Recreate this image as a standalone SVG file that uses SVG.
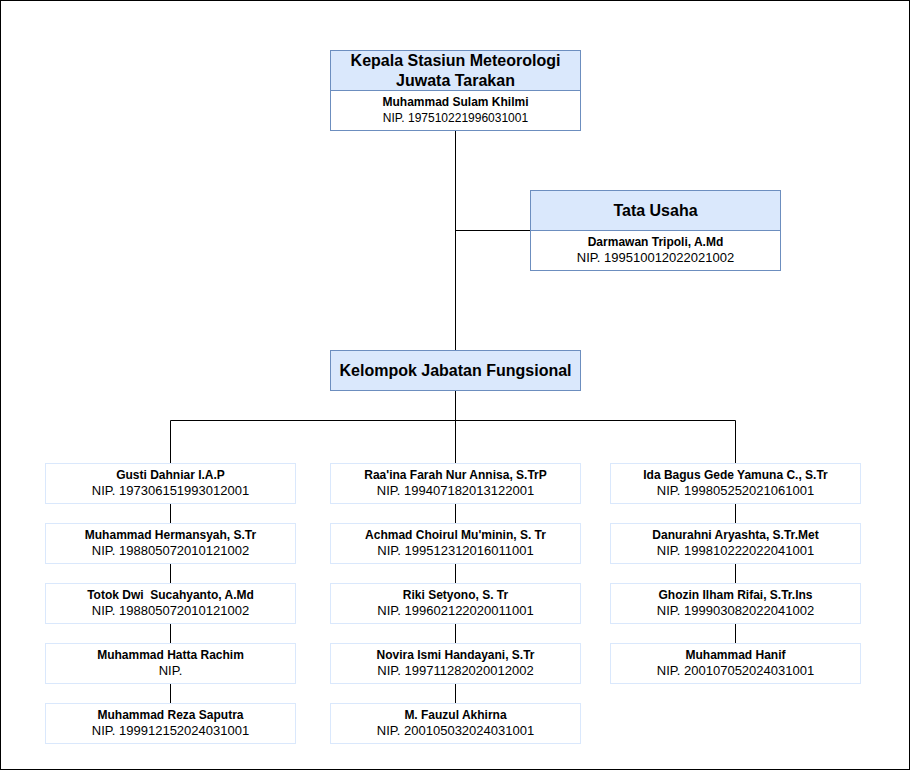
<svg xmlns="http://www.w3.org/2000/svg" width="912" height="771" viewBox="0 0 912 771">
<style>
  .hdr{fill:#dae8fc;stroke:#6c8ebf;stroke-width:1}
  .body{fill:#ffffff;stroke:#6c8ebf;stroke-width:1}
  .staff{fill:#ffffff;stroke:#dae8fc;stroke-width:1}
  .t{font-family:"Liberation Sans",Arial,sans-serif;fill:#000;text-anchor:middle}
  .title{font-size:16px;font-weight:bold}
  .name{font-size:12px;font-weight:bold;white-space:pre}
  .nip{font-size:13px}
  .nip12{font-size:12px}
  .conn line{stroke:#000;stroke-width:1;fill:none}
</style>
<rect x="0.5" y="0.5" width="909" height="769" fill="#ffffff" stroke="#000" stroke-width="1"/>
<g id="connectors" class="conn">
  <line x1="455.5" y1="130.5" x2="455.5" y2="350.5"/>
  <line x1="455.5" y1="230.5" x2="530.5" y2="230.5"/>
  <line x1="455.5" y1="390.5" x2="455.5" y2="420.5"/>
  <line x1="170.5" y1="420.5" x2="735.5" y2="420.5"/>
  <line x1="170.5" y1="420.5" x2="170.5" y2="463.5"/>
  <line x1="455.5" y1="420.5" x2="455.5" y2="463.5"/>
  <line x1="735.5" y1="420.5" x2="735.5" y2="463.5"/>
  <line x1="170.5" y1="503.5" x2="170.5" y2="523.5"/>
  <line x1="170.5" y1="563.5" x2="170.5" y2="583.5"/>
  <line x1="170.5" y1="623.5" x2="170.5" y2="643.5"/>
  <line x1="170.5" y1="683.5" x2="170.5" y2="703.5"/>
  <line x1="455.5" y1="503.5" x2="455.5" y2="523.5"/>
  <line x1="455.5" y1="563.5" x2="455.5" y2="583.5"/>
  <line x1="455.5" y1="623.5" x2="455.5" y2="643.5"/>
  <line x1="455.5" y1="683.5" x2="455.5" y2="703.5"/>
  <line x1="735.5" y1="503.5" x2="735.5" y2="523.5"/>
  <line x1="735.5" y1="563.5" x2="735.5" y2="583.5"/>
  <line x1="735.5" y1="623.5" x2="735.5" y2="643.5"/>
</g>
<g id="kepala">
  <rect class="hdr" x="330.5" y="50.5" width="250" height="40"/>
  <rect class="body" x="330.5" y="90.5" width="250" height="40"/>
  <text class="t title" x="455.5" y="66.3">Kepala Stasiun Meteorologi</text>
  <text class="t title" x="455.5" y="85.5">Juwata Tarakan</text>
  <text class="t name" x="455.5" y="106">Muhammad Sulam Khilmi</text>
  <text class="t nip12" x="455.5" y="122">NIP. 197510221996031001</text>
</g>
<g id="tata-usaha">
  <rect class="hdr" x="530.5" y="190.5" width="250" height="40"/>
  <rect class="body" x="530.5" y="230.5" width="250" height="40"/>
  <text class="t title" x="655.5" y="216">Tata Usaha</text>
  <text class="t name" x="655.5" y="245.5">Darmawan Tripoli, A.Md</text>
  <text class="t nip" x="655.5" y="262">NIP. 199510012022021002</text>
</g>
<g id="kelompok">
  <rect class="hdr" x="330.5" y="350.5" width="250" height="40"/>
  <text class="t title" x="455.5" y="376">Kelompok Jabatan Fungsional</text>
</g>
<g id="s-l1"><rect class="staff" x="45.5" y="463.5" width="250" height="40"/><text class="t name" x="170.5" y="478.5">Gusti Dahniar I.A.P</text><text class="t nip" x="170.5" y="495">NIP. 197306151993012001</text></g>
<g id="s-l2"><rect class="staff" x="45.5" y="523.5" width="250" height="40"/><text class="t name" x="170.5" y="538.5">Muhammad Hermansyah, S.Tr</text><text class="t nip" x="170.5" y="555">NIP. 198805072010121002</text></g>
<g id="s-l3"><rect class="staff" x="45.5" y="583.5" width="250" height="40"/><text class="t name" x="170.5" y="598.5">Totok Dwi  Sucahyanto, A.Md</text><text class="t nip" x="170.5" y="615">NIP. 198805072010121002</text></g>
<g id="s-l4"><rect class="staff" x="45.5" y="643.5" width="250" height="40"/><text class="t name" x="170.5" y="658.5">Muhammad Hatta Rachim</text><text class="t nip" x="170.5" y="675">NIP.</text></g>
<g id="s-l5"><rect class="staff" x="45.5" y="703.5" width="250" height="40"/><text class="t name" x="170.5" y="718.5">Muhammad Reza Saputra</text><text class="t nip" x="170.5" y="735">NIP. 199912152024031001</text></g>
<g id="s-m1"><rect class="staff" x="330.5" y="463.5" width="250" height="40"/><text class="t name" x="455.5" y="478.5">Raa'ina Farah Nur Annisa, S.TrP</text><text class="t nip" x="455.5" y="495">NIP. 199407182013122001</text></g>
<g id="s-m2"><rect class="staff" x="330.5" y="523.5" width="250" height="40"/><text class="t name" x="455.5" y="538.5">Achmad Choirul Mu'minin, S. Tr</text><text class="t nip" x="455.5" y="555">NIP. 199512312016011001</text></g>
<g id="s-m3"><rect class="staff" x="330.5" y="583.5" width="250" height="40"/><text class="t name" x="455.5" y="598.5">Riki Setyono, S. Tr</text><text class="t nip" x="455.5" y="615">NIP. 199602122020011001</text></g>
<g id="s-m4"><rect class="staff" x="330.5" y="643.5" width="250" height="40"/><text class="t name" x="455.5" y="658.5">Novira Ismi Handayani, S.Tr</text><text class="t nip" x="455.5" y="675">NIP. 199711282020012002</text></g>
<g id="s-m5"><rect class="staff" x="330.5" y="703.5" width="250" height="40"/><text class="t name" x="455.5" y="718.5">M. Fauzul Akhirna</text><text class="t nip" x="455.5" y="735">NIP. 200105032024031001</text></g>
<g id="s-r1"><rect class="staff" x="610.5" y="463.5" width="250" height="40"/><text class="t name" x="735.5" y="478.5">Ida Bagus Gede Yamuna C., S.Tr</text><text class="t nip" x="735.5" y="495">NIP. 199805252021061001</text></g>
<g id="s-r2"><rect class="staff" x="610.5" y="523.5" width="250" height="40"/><text class="t name" x="735.5" y="538.5">Danurahni Aryashta, S.Tr.Met</text><text class="t nip" x="735.5" y="555">NIP. 199810222022041001</text></g>
<g id="s-r3"><rect class="staff" x="610.5" y="583.5" width="250" height="40"/><text class="t name" x="735.5" y="598.5">Ghozin Ilham Rifai, S.Tr.Ins</text><text class="t nip" x="735.5" y="615">NIP. 199903082022041002</text></g>
<g id="s-r4"><rect class="staff" x="610.5" y="643.5" width="250" height="40"/><text class="t name" x="735.5" y="658.5">Muhammad Hanif</text><text class="t nip" x="735.5" y="675">NIP. 200107052024031001</text></g>
</svg>
